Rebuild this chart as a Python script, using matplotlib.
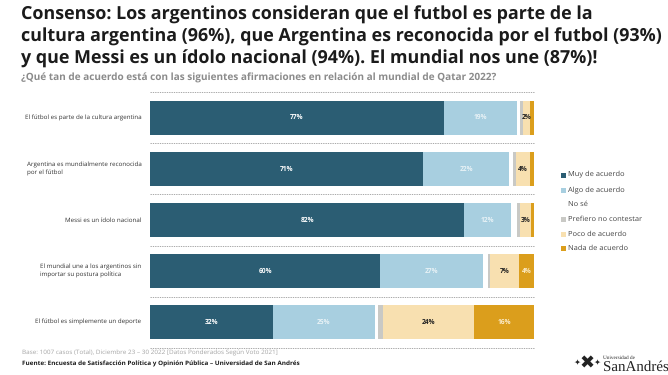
import matplotlib
matplotlib.use("Agg")
import matplotlib.pyplot as plt
from matplotlib.patches import Rectangle

W, H = 668, 375
categories = ["El fútbol es parte de la cultura argentina",
              "Argentina es mundialmente reconocida\npor el fútbol",
              "Messi es un ídolo nacional",
              "El mundial une a los argentinos sin\nimportar su postura política",
              "El fútbol es simplemente un deporte"]
series_names = ["Muy de acuerdo", "Algo de acuerdo", "No sé", "Prefiero no contestar", "Poco de acuerdo", "Nada de acuerdo"]
colors = ["#2B5D73", "#A8CFE0", "#FFFFFF", "#C9C9C5", "#F8E0B0", "#DB9E1C"]
muy = [76.6, 71.1, 81.8, 60.0, 32.0]
algo = [19.0, 22.4, 12.2, 26.6, 26.6]
nose = [0.8, 1.0, 1.5, 1.3, 0.8]
prefiero = [0.8, 0.8, 0.8, 0.6, 1.3]
poco = [1.8, 3.7, 2.9, 7.5, 23.7]
nada = [1.0, 1.0, 0.8, 4.2, 15.6]
values = [muy, algo, nose, prefiero, poco, nada]
lab_muy = ["77%", "71%", "82%", "60%", "32%"]
lab_algo = ["19%", "22%", "12%", "27%", "25%"]
lab_nose = ["", "", "", "", ""]
lab_pref = ["", "", "", "", ""]
lab_poco = ["2%", "4%", "3%", "7%", "24%"]
lab_nada = ["", "", "", "4%", "16%"]
labels = [lab_muy, lab_algo, lab_nose, lab_pref, lab_poco, lab_nada]
label_colors = ["white", "#E8F2F6", "white", "white", "#222222", "#FBEBC8"]
title_lines = ["Consenso: Los argentinos consideran que el futbol es parte de la",
               "cultura argentina (96%), que Argentina es reconocida por el futbol (93%)",
               "y que Messi es un ídolo nacional (94%). El mundial nos une (87%)!"]
subtitle = "¿Qué tan de acuerdo está con las siguientes afirmaciones en relación al mundial de Qatar 2022?"
base = "Base: 1007 casos (Total), Diciembre 23 – 30 2022 [Datos Ponderados Según Voto 2021]"
fuente = "Fuente: Encuesta de Satisfacción Política y Opinión Pública – Universidad de San Andrés"

plt.rcParams["font.family"] = ["Open Sans", "DejaVu Sans"]
plt.rcParams["text.hinting"] = "no_hinting"
fig = plt.figure(figsize=(W / 100, H / 100), dpi=100, facecolor="white")
x0, x1, ytop, ybot = 150, 534, 92, 348
ax = fig.add_axes([x0 / W, 1 - ybot / H, (x1 - x0) / W, (ybot - ytop) / H])
ax.set_xlim(0, 100)
ax.set_ylim(4.5, -0.5)
ax.axis("off")
rows = range(len(categories))
for r in rows:
    left = 0.0
    for s, vals in enumerate(values):
        ax.barh(r, vals[r], left=left, height=34 / 51.2, color=colors[s], linewidth=0)
        if labels[s][r]:
            ax.text(left + vals[r] / 2, r, labels[s][r], ha="center", va="center",
                    fontsize=4.8, fontweight="bold", color=label_colors[s])
        left += vals[r]
for y in [r - 0.5 for r in rows] + [4.5]:
    ax.plot([0, 100], [y, y], color="#9A9A9A", lw=0.6, ls=(0, (1.6, 1.2)), clip_on=False)

def T(x, y, s, **k):
    fig.text(x / W, 1 - y / H, s, **k)

for y, line in zip([15, 37, 59], title_lines):
    T(21, y, line, fontsize=12.9, fontweight="bold", color="#1B1B1B", va="center")
T(21, 78, subtitle, fontsize=7.2, fontweight="bold", color="#8B8B8B", va="center")
cat_x = [25, 27, 65, 40, 35]
for r, cy, cx in zip(rows, [118, 169, 220, 271, 322], cat_x):
    T(cx, cy, categories[r], fontsize=4.5, color="#333333", va="center", linespacing=1.6)
T(22, 353, base, fontsize=4.56, color="#A5A5A5", va="center")
T(22, 364, fuente, fontsize=4.55, fontweight="bold", color="#1B1B1B", va="center")

for name, color, y in zip(series_names, colors, [175, 190, 204, 219, 234, 248]):
    fig.add_artist(Rectangle((561 / W, 1 - (y + 2.5) / H), 5 / W, 5 / H, color=color, lw=0, transform=fig.transFigure))
    T(568, y, name, fontsize=5.4, color="#444444", va="center")

T(603, 358, "Universidad de", fontsize=3.8, family="Liberation Serif", color="#222222", va="center")
T(603, 367, "SanAndrés", fontsize=10.8, family="Liberation Serif", color="#222222", va="center")
T(587, 364, "✖", fontsize=13, family="DejaVu Sans", color="#222222", va="center", ha="center")
T(577, 364, "✦", fontsize=6, family="DejaVu Sans", color="#222222", va="center", ha="center")
T(597, 364, "✦", fontsize=6, family="DejaVu Sans", color="#222222", va="center", ha="center")
fig.savefig("out.png", dpi=100)
